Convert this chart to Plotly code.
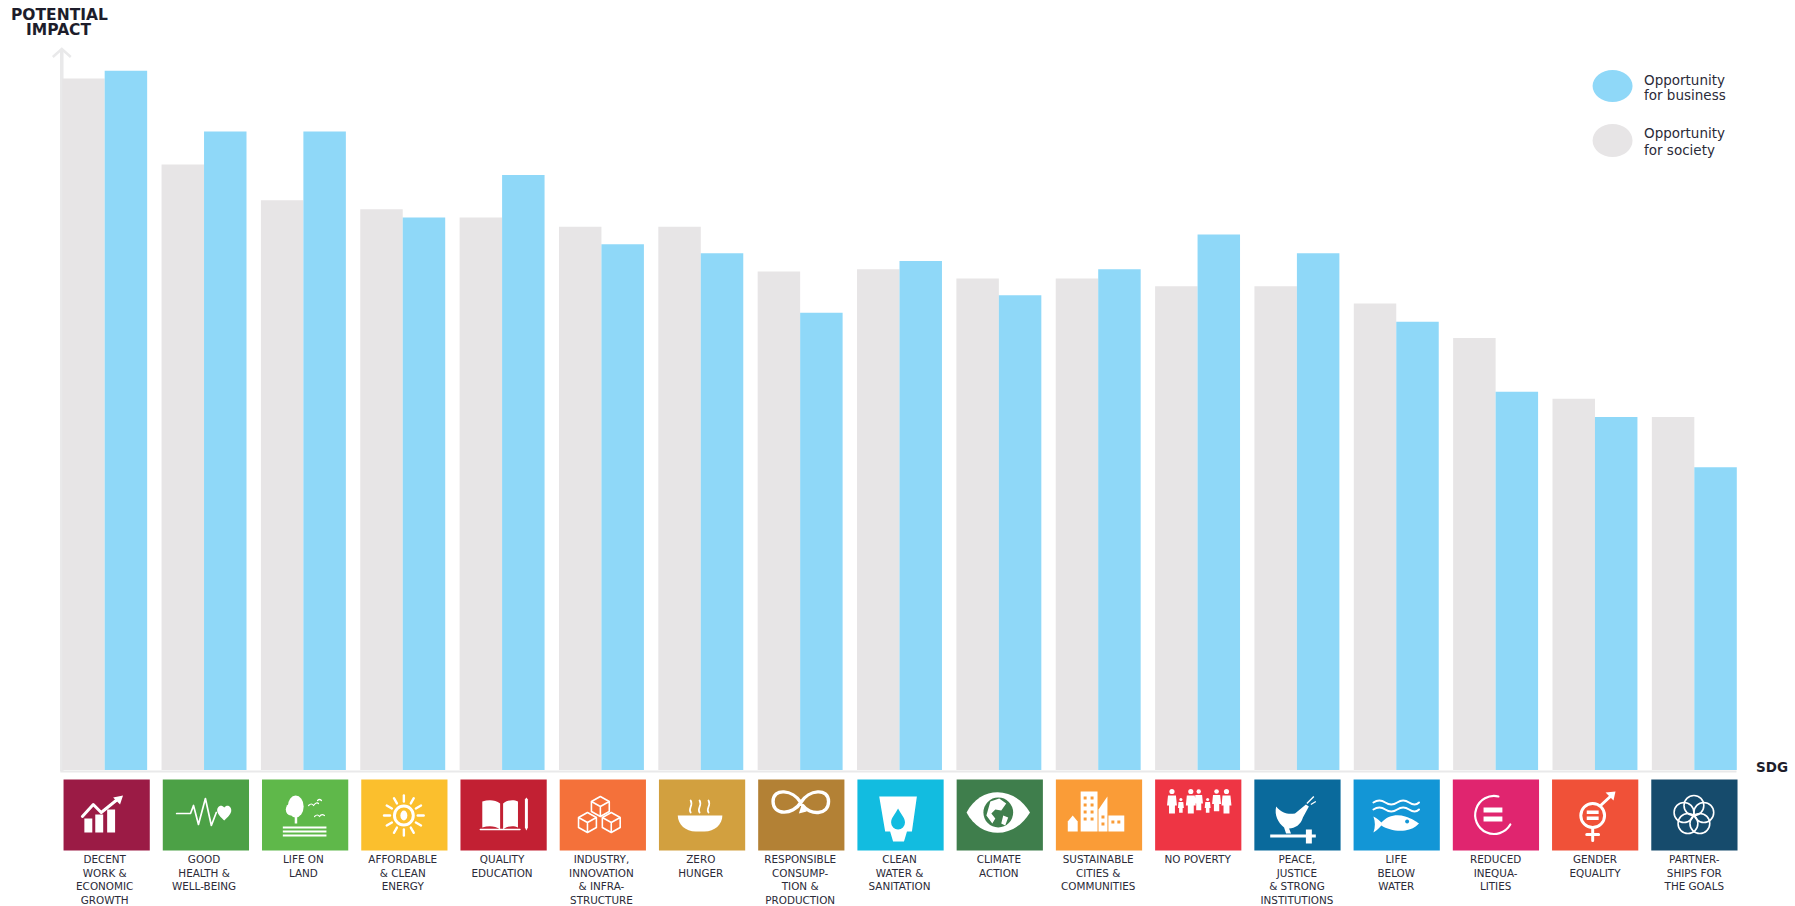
import base64
import math
import plotly.graph_objects as go

categories = ["Decent work & economic growth", "Good health & well-being", "Life on land",
              "Affordable & clean energy", "Quality education", "Industry, innovation & infrastructure",
              "Zero hunger", "Responsible consumption & production", "Clean water & sanitation",
              "Climate action", "Sustainable cities & communities", "No poverty",
              "Peace, justice & strong institutions", "Life below water", "Reduced inequalities",
              "Gender equality", "Partnerships for the goals"]
tick_labels = ["DECENT<br>WORK &<br>ECONOMIC<br>GROWTH", "GOOD<br>HEALTH &<br>WELL-BEING", "LIFE ON<br>LAND",
               "AFFORDABLE<br>& CLEAN<br>ENERGY", "QUALITY<br>EDUCATION", "INDUSTRY,<br>INNOVATION<br>& INFRA-<br>STRUCTURE",
               "ZERO<br>HUNGER", "RESPONSIBLE<br>CONSUMP-<br>TION &<br>PRODUCTION", "CLEAN<br>WATER &<br>SANITATION",
               "CLIMATE<br>ACTION", "SUSTAINABLE<br>CITIES &<br>COMMUNITIES", "NO POVERTY",
               "PEACE,<br>JUSTICE<br>& STRONG<br>INSTITUTIONS", "LIFE<br>BELOW<br>WATER", "REDUCED<br>INEQUA-<br>LITIES",
               "GENDER<br>EQUALITY", "PARTNER-<br>SHIPS FOR<br>THE GOALS"]
society = [98.9, 86.6, 81.5, 80.2, 79.0, 77.7, 77.7, 71.3, 71.6, 70.3, 70.3, 69.2, 69.2, 66.7, 61.8, 53.1, 50.5]
business = [100.0, 91.3, 91.3, 79.0, 85.1, 75.2, 73.9, 65.4, 72.8, 67.9, 71.6, 76.6, 73.9, 64.1, 54.1, 50.5, 43.3]
tile_colors = ["#9B1B45", "#4CA146", "#5FB84A", "#FBBF2D", "#C22033", "#F4713A", "#D2A03F", "#B38135", "#12BCE0",
               "#3F7E4C", "#FA9C37", "#EE3544", "#0A6A9C", "#1396D6", "#E0256F", "#F05138", "#164B6C"]

W, H = 1795, 906
L, R, T, B = 54.7, 50.5, 47, 136
GRAY, BLUE, AXIS, INK = "#E7E5E6", "#8FD8F8", "#E9E9EA", "#2B2B38"
PW, PH = W - L - R, H - T - B

S = 'stroke="#fff" fill="none" stroke-linecap="round" stroke-linejoin="round"'
def rays():
    out = ""
    for k in range(12):
        a = k * math.pi / 6
        out += f'<line x1="{43+14*math.cos(a):.1f}" y1="{36+14*math.sin(a):.1f}" x2="{43+20*math.cos(a):.1f}" y2="{36+20*math.sin(a):.1f}"/>'
    return out
def person(x, y, s):
    return (f'<circle cx="{x}" cy="{y}" r="{2.6*s}"/><path d="M{x-4*s} {y+4*s}h{8*s}l{1*s} {10*s}h-{2*s}v{8*s}h-{6*s}v-{8*s}h-{2*s}z"/>')
def cube(x, y):
    return (f'<path d="M{x} {y-8}l9 5v10l-9 5l-9-5v-10zM{x-9} {y-3}l9 5l9-5M{x} {y+2}v10" {S} stroke-width="1.6"/>')

icons = [
    f'<rect x="21" y="39" width="8" height="14"/><rect x="32" y="35" width="8" height="18"/><rect x="44" y="30" width="8" height="23"/>'
    f'<path d="M19 37L30 25L38 33L53 21" {S} stroke-width="3"/><path d="M60 16l-10 2l7 7z"/>',
    f'<path d="M14 34H28L31 26L36 45L43 19L49 46L54 33" {S} stroke-width="1.7"/><path d="M62 28c3-4 8-1 7 4c-1 4-5 7-7 9c-2-2-6-5-7-9c-1-5 4-8 7-4z"/>',
    f'<ellipse cx="34" cy="27" rx="8" ry="11"/><ellipse cx="29" cy="30" rx="5" ry="6"/><rect x="33" y="36" width="2.5" height="8"/>'
    f'<rect x="21" y="47" width="44" height="2"/><rect x="21" y="51" width="44" height="2"/><rect x="21" y="55" width="44" height="2"/>'
    f'<path d="M47 26q3-3 5 0q3-4 5-2M53 37q3-3 5 0q2-3 5-1M56 21q2-2 4 0" {S} stroke-width="1.2"/>',
    f'<g {S} stroke-width="2.4">{rays()}</g><circle cx="43" cy="36" r="9.5" {S} stroke-width="3"/><ellipse cx="43" cy="36" rx="3.5" ry="5"/>',
    f'<path d="M40 24c-5-4-12-4-18-2v26c6-2 13-2 18 2zM43 24c5-4 11-4 15-2v26c-4-2-10-2-15 2z"/><path d="M20 50h40" {S} stroke-width="1.5"/>'
    f'<path d="M65 20l1.5-2l1.5 2v28l-1.5 3l-1.5-3z"/>',
    cube(41, 25) + cube(28, 41) + cube(52, 41),
    f'<path d="M19 36H64C64 45 56 52 46 52H37C27 52 19 45 19 36Z"/><path d="M32 33c-3-4 3-7 0-12M41 33c-3-4 3-7 0-12M50 33c-3-4 3-7 0-12" {S} stroke-width="1.8"/>',
    f'<path d="M43 23C35 10 15 8 15 22C15 36 35 36 43 23C51 10 71 8 71 22C71 36 52 36 45 26" {S} stroke-width="3.4"/><path d="M41 34l8-2l-5-7z"/>',
    '<path d="M22 17H60L55 52H50L47 62H36L33 52H28Z"/><path d="M41 29C44 35 48 38 48 43A7 7 0 0 1 34 43C34 38 38 35 41 29Z" fill="#12BCE0"/>',
    '<path d="M10 33C24 6 58 6 74 33C58 60 24 60 10 33Z"/><circle cx="42" cy="33" r="15" fill="#3F7E4C"/><path d="M34 22l9-3l7 5l-5 7l-6-1l-4 4l4 5l-3 5l-6-8zM47 36l5 2l-3 8l-4-2z"/>',
    '<path d="M12 42l5-6l5 6v10H12z"/><rect x="25" y="12" width="17" height="40"/><path d="M43 52V30l9-13v35z"/><rect x="53" y="36" width="16" height="16"/>'
    '<g fill="#FA9C37"><rect x="28" y="17" width="3" height="3"/><rect x="35" y="17" width="3" height="3"/><rect x="28" y="24" width="3" height="3"/><rect x="35" y="24" width="3" height="3"/><rect x="28" y="31" width="3" height="3"/><rect x="35" y="31" width="3" height="3"/><rect x="28" y="38" width="3" height="3"/><rect x="35" y="38" width="3" height="3"/><rect x="56" y="41" width="3" height="3"/><rect x="62" y="41" width="3" height="3"/><rect x="46" y="36" width="3" height="3"/><rect x="46" y="43" width="3" height="3"/></g>',
    person(17, 12, 1) + person(26, 20, .6) + person(36, 12, 1) + person(44, 12, .85) + person(53, 20, .6) + person(62, 12, .9) + person(72, 12, 1),
    '<path d="M22 27c6 7 12 8 19 7l11-9l3 2l-6 11c-2 7-8 11-14 11l2 5h-5l-2-6c-6-5-10-12-8-21z"/><path d="M53 24l7-7M57 25l5-3" stroke="#fff" stroke-width="1.4"/>'
    '<rect x="16" y="55" width="46" height="3"/><rect x="52" y="50" width="6" height="14"/>',
    f'<path d="M20 23q6-4 12 0t12 0t12 0t10 0M20 30q6-4 12 0t12 0t12 0t10 0" {S} stroke-width="2"/><path d="M20 37c4 2 6 4 8 6c6-7 16-9 24-6c7 2 11 5 14 7c-4 4-8 6-14 7c-9 1-18-1-24-5c-2 2-4 5-8 7c2-5 2-11 0-16z"/><circle cx="54" cy="42" r="2" fill="#1396D6"/>',
    f'<path d="M46 17A19 19 0 1 0 58 45" {S} stroke-width="2.2"/><rect x="31" y="28" width="19" height="5"/><rect x="31" y="37" width="19" height="5"/>',
    f'<ellipse cx="41" cy="36" rx="12" ry="12" {S} stroke-width="3"/><rect x="35" y="31" width="12" height="3.5"/><rect x="35" y="37" width="12" height="3.5"/>'
    f'<path d="M41 48v13M35 55h12M49 26l12-11" {S} stroke-width="3"/><path d="M64 12l-10 1l8 8z"/>',
    f'<g {S} stroke-width="1.6"><circle cx="43" cy="26" r="10"/><circle cx="33" cy="33" r="10"/><circle cx="53" cy="33" r="10"/><circle cx="37" cy="44" r="10"/><circle cx="49" cy="44" r="10"/></g>',
]
def uri(body):
    svg = f'<svg xmlns="http://www.w3.org/2000/svg" width="87" height="71" viewBox="0 0 87 71" preserveAspectRatio="none" fill="#fff">{body}</svg>'
    return "data:image/svg+xml;base64," + base64.b64encode(svg.encode()).decode()

fig = go.Figure()
fig.add_bar(x=categories, y=society, name="Opportunity for society", marker_color=GRAY, marker_line_width=0)
fig.add_bar(x=categories, y=business, name="Opportunity for business", marker_color=BLUE, marker_line_width=0)

def px(x): return (x - L) / PW
def py(y): return (H - B - y) / PH

shapes, images = [], []
tile_w = 0.868
tile_top, tile_bot = py(779.5), py(850.5)
for i, c in enumerate(tile_colors):
    left = i - tile_w / 2 + .02 - i * .0012
    shapes.append(dict(type="rect", xref="x", yref="paper", x0=left, x1=left + tile_w,
                       y0=tile_top, y1=tile_bot, fillcolor=c, line_width=0, layer="below"))
    images.append(dict(source=uri(icons[i]), xref="paper", yref="paper", x=(left + .5) / 17, y=tile_top,
                       sizex=tile_w / 17, sizey=tile_top - tile_bot, xanchor="left", yanchor="top",
                       sizing="stretch", layer="above"))

shapes += [
    dict(type="line", xref="paper", yref="paper", x0=px(61.5), x1=px(61.5), y0=py(771), y1=py(50), line=dict(color=AXIS, width=3.5), layer="below"),
    dict(type="path", xref="paper", yref="paper", path=f"M{px(52.5)} {py(57)} L{px(61.5)} {py(49)} L{px(70.5)} {py(57)}", line=dict(color=AXIS, width=2.5)),
    dict(type="line", xref="paper", yref="paper", x0=px(60), x1=px(1737), y0=py(771.5), y1=py(771.5), line=dict(color=AXIS, width=2)),
    dict(type="circle", xref="paper", yref="paper", x0=px(1593), x1=px(1633), y0=py(70), y1=py(102), fillcolor=BLUE, line_width=0),
    dict(type="circle", xref="paper", yref="paper", x0=px(1593), x1=px(1633), y0=py(124), y1=py(157), fillcolor=GRAY, line_width=0),
]
def note(text, x, y, size, bold=False, anchor="left"):
    return dict(text=f"<b>{text}</b>" if bold else text, xref="paper", yref="paper", x=px(x), y=py(y), showarrow=False,
                xanchor=anchor, yanchor="middle", align=anchor,
                font=dict(family="DejaVu Sans", size=size, color="#1d1d2b" if bold else INK))
annotations = [
    note("POTENTIAL", 59, 15, 15.5, True, "center"),
    note("IMPACT", 59, 30, 15.5, True, "center"),
    note("SDG", 1773, 767, 13.5, True, "center"),
    note("Opportunity", 1642, 80, 13.5),
    note("for business", 1642, 95, 13.5),
    note("Opportunity", 1642, 133, 13.5),
    note("for society", 1642, 150, 13.5),
]

fig.update_layout(
    width=W, height=H, margin=dict(l=L, r=R, t=T, b=B, pad=0, autoexpand=False),
    paper_bgcolor="white", plot_bgcolor="white", showlegend=False,
    barmode="group", bargap=0.145, bargroupgap=0,
    shapes=shapes, images=images, annotations=annotations,
    xaxis=dict(type="category", categoryorder="array", categoryarray=categories, tickmode="array", tickvals=categories,
               ticktext=tick_labels, showline=False, ticks="", showgrid=False, zeroline=False, ticklabelstandoff=82,
               tickangle=0, tickfont=dict(family="DejaVu Sans", size=10.4, color=INK), range=[-0.5, 16.5]),
    yaxis=dict(range=[0, 103.4], showgrid=False, zeroline=False, showticklabels=False, ticks="", showline=False),
)
fig.write_html("out.html", config={"displayModeBar": False}, post_script="document.body.style.margin='0';")
